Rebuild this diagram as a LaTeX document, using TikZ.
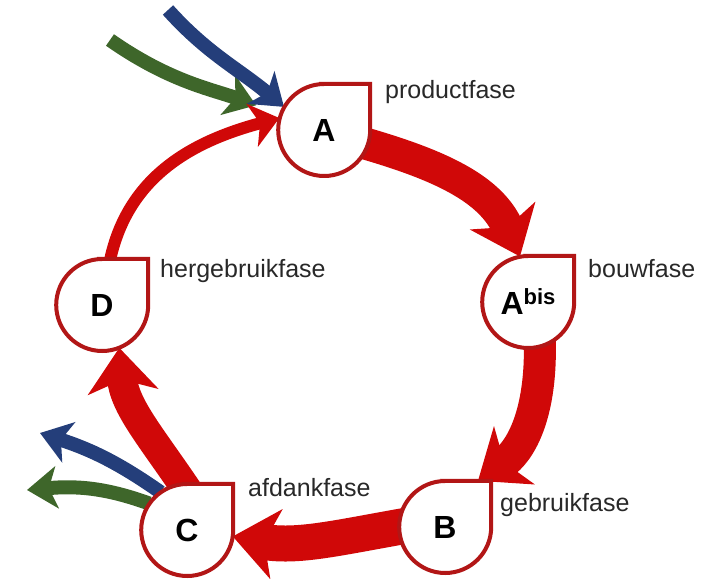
\documentclass[tikz,border=0pt]{standalone}
\usepackage{fontspec}
\setmainfont{Liberation Sans}
\definecolor{cyclered}{RGB}{208, 8, 8}
\definecolor{dropred}{RGB}{178, 22, 22}
\definecolor{flowblue}{RGB}{36, 62, 122}
\definecolor{flowgreen}{RGB}{62, 102, 42}
\definecolor{labelgrey}{RGB}{40, 40, 40}
\usetikzlibrary{arrows.meta, positioning, calc}
\pgfdeclarelayer{back}
\pgfdeclarelayer{mid}
\pgfsetlayers{back,mid,main}

\begin{document}
\begin{tikzpicture}[x=1pt, y=1pt,
  phase/.style={circle, minimum size=92pt, inner sep=0pt, font=\fontsize{32}{32}\selectfont\bfseries},
  droplet/.style={draw=dropred, fill=white, line width=4pt, line join=miter},
  fase/.style={anchor=base west, inner sep=0pt, text=labelgrey, font=\fontsize{25}{28}\selectfont},
  bigring/.style={draw=cyclered, line width=32pt, shorten <=-8pt, -{Stealth[length=44pt, width=70pt, inset=12pt]}},
  thinring/.style={draw=cyclered, line width=12pt, shorten <=-8pt, -{Stealth[length=28pt, width=44pt, inset=8pt]}},
  flow/.style={line width=14pt, -{Stealth[length=30pt, width=42pt, inset=8pt]}}
]
  \useasboundingbox (0,0) rectangle (705,579);

  % phases
  \node[phase] (A) at (324,449) {A};
  \node[phase] (Abis) at (528,277) {A\raisebox{10pt}{\fontsize{22}{22}\selectfont bis}};
  \node[phase] (B) at (445,52) {B};
  \node[phase] (C) at (187,49) {C};
  \node[phase] (D) at (102,274) {D};

  \begin{pgfonlayer}{mid}
    \foreach \n in {A,Abis,B,C,D}
      \draw[droplet] (\n.north) -| (\n.east) arc[start angle=0, end angle=-270, radius=46] -- cycle;
  \end{pgfonlayer}

  % labels
  \node[fase] (prodlabel) at (385,480) {productfase};
  \node[fase] (bouwlabel) at (588,301) {bouwfase};
  \node[fase] (gebrlabel) at (500,67) {gebruikfase};
  \node[fase] (afdlabel) at (248,82) {afdankfase};
  \node[fase] (herglabel) at (160,301) {hergebruikfase};

  \coordinate (bluein) at (168,569);
  \coordinate (greenin) at (110,539);
  \coordinate (blueout) at (40,146);
  \coordinate (greenout) at (27,89);

  \begin{pgfonlayer}{back}
    % inflow
    \draw[flow, flowgreen, shorten >=26pt] (greenin) to[out=-35, in=160] (A.160);
    \draw[flow, flowblue] (bluein) to[out=-48, in=140] (A.150);
    % cycle
    \draw[bigring] (A.-18) to[out=-16, in=113] (Abis.100);
    \draw[bigring] (Abis.-75) to[out=-88, in=35] ([xshift=33pt]B.north);
    \draw[bigring, line width=36pt] (B.west) to[out=190, in=-10] (C.-8);
    \draw[bigring, line width=30pt] (C.95) to[out=124, in=-85] (D.-68);
    \draw[thinring] (D.80) to[out=80, in=195] (A.165);
    % outflow
    \draw[flow, flowblue] (C.125) to[out=145, in=-18] (blueout);
    \draw[flow, flowgreen] (C.145) to[out=160, in=5] (greenout);
  \end{pgfonlayer}
\end{tikzpicture}
\end{document}
